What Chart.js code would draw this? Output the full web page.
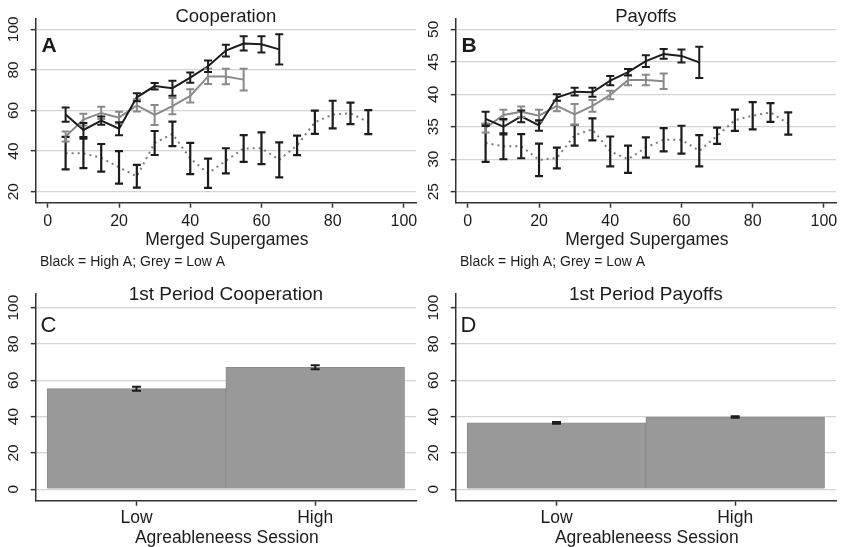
<!DOCTYPE html>
<html>
<head>
<meta charset="utf-8">
<script src="https://cdn.jsdelivr.net/npm/chart.js@4/dist/chart.umd.min.js"></script>
<style>
  html, body { margin: 0; padding: 0; background: #ffffff; }
  #wrap { position: relative; width: 842px; height: 547px; overflow: hidden; }
  #wrap canvas { position: absolute; }
</style>
</head>
<body>
<div id="wrap">
  <canvas id="panelA" width="421" height="270" style="left:0;top:0"></canvas>
  <canvas id="panelB" width="421" height="270" style="left:420px;top:0"></canvas>
  <canvas id="panelC" width="421" height="277" style="left:0;top:270px"></canvas>
  <canvas id="panelD" width="421" height="277" style="left:420px;top:270px"></canvas>
</div>
<script>
// ---- data -------------------------------------------------------------
const supergames = [5, 10, 15, 20, 25, 30, 35, 40, 45, 50, 55, 60, 65, 70, 75, 80, 85, 90];

// Cooperation (%) by merged supergame
const coopHigh    = [58, 50.4, 55, 51, 66.5, 72, 71, 76.2, 81.8, 89.5, 93, 92.6, 90.1];
const coopHighErr = [3.5, 3.5, 2, 3.2, 2, 1.6, 3.7, 2.5, 2.8, 2.9, 3.5, 4, 7.4];
const coopLow     = [47.2, 55.5, 58.8, 56.5, 62.5, 57.8, 62.2, 67.2, 76.8, 76.7, 75.2];
const coopLowErr  = [2.5, 2.9, 3, 2.9, 3, 4.9, 4, 3.3, 3.7, 3.8, 5.3];
const coopDotted    = [39, 38.9, 36.7, 32, 27.6, 44, 48.5, 36.4, 29.1, 35.2, 41.3, 41.4, 35.7, 42.8, 54.2, 58, 58.6, 54.3];
const coopDottedErr = [8, 7.3, 6.8, 8, 5.6, 5.9, 6, 7.7, 7.2, 6.2, 6.6, 7.8, 8.6, 4.8, 5.7, 6.8, 5.3, 5.9];

// Payoffs by merged supergame
const payHigh    = [36.2, 35, 36.6, 35.2, 39.5, 40.4, 40.3, 42.1, 43.4, 45.1, 46.2, 45.9, 44.9];
const payHighErr = [1.1, 1.2, 0.9, 0.8, 0.5, 0.6, 0.7, 0.7, 0.5, 0.9, 0.75, 1, 2.4];
const payLow     = [34.8, 36.8, 37.3, 36.7, 38.2, 36.9, 38.2, 39.9, 42.2, 42.2, 42];
const payLowErr  = [0.7, 0.8, 0.8, 0.9, 0.8, 1.6, 0.9, 0.65, 0.8, 0.8, 1.2];
const payDotted    = [32.5, 32, 32, 29.9, 30.2, 33.7, 34.6, 31.2, 30, 31.8, 33, 33, 31.3, 33.6, 36, 36.7, 37.2, 35.5];
const payDottedErr = [2.9, 2, 1.85, 2.5, 1.6, 1.6, 1.7, 2.3, 2.1, 1.55, 1.8, 2.15, 2.4, 1.25, 1.65, 2.1, 1.45, 1.7];

// First-period means by session agreeableness
const sessions        = ['Low', 'High'];
const firstCoop       = [55.4, 67.2];
const firstCoopErr    = [1.1, 1.1];
const firstPay        = [36.6, 39.8];
const firstPayErr     = [0.5, 0.45];

// axis tick values
const supergameTicks = [0, 20, 40, 60, 80, 100];
const coopTicks      = [20, 40, 60, 80, 100];
const payTicks       = [25, 30, 35, 40, 45, 50];
const barTicks       = [0, 20, 40, 60, 80, 100];

// ---- helpers ----------------------------------------------------------
const FONT = '"Liberation Sans", Arial, Helvetica, sans-serif';
const INK = '#1c1c1c';
const GREY = '#8a8a8a';
const GRID = '#d4d4d4';

function points(xs, ys) {
  return ys.map((y, i) => ({ x: xs[i], y: y }));
}

// vertical error bars with caps, drawn with the chart's own y scale
const errorBars = {
  id: 'errorBars',
  afterDatasetsDraw(chart) {
    const ctx = chart.ctx;
    const ys = chart.scales.y;
    for (let i = chart.data.datasets.length - 1; i >= 0; i--) {
      const ds = chart.data.datasets[i];
      if (!ds.errors) continue;
      const meta = chart.getDatasetMeta(i);
      const h = ds.capHalf;
      ctx.save();
      ctx.strokeStyle = ds.errorColor;
      ctx.lineWidth = ds.errorWidth;
      ctx.lineCap = 'butt';
      meta.data.forEach((el, j) => {
        const v = ds.data[j].y, e = ds.errors[j];
        const x = el.x;
        const top = ys.getPixelForValue(v + e);
        const bot = ys.getPixelForValue(v - e);
        ctx.beginPath();
        ctx.moveTo(x, top); ctx.lineTo(x, bot);
        ctx.moveTo(x - h, top); ctx.lineTo(x + h, top);
        ctx.moveTo(x - h, bot); ctx.lineTo(x + h, bot);
        ctx.stroke();
      });
      ctx.restore();
    }
  }
};

// titles, panel letters, rotated y tick labels, x tick labels, axis titles
const panelText = {
  id: 'panelText',
  afterDraw(chart) {
    const T = chart.options.plugins.panelText;
    if (!T) return;
    const ctx = chart.ctx, ca = chart.chartArea;
    const xs = chart.scales.x, ys = chart.scales.y;
    ctx.save();
    ctx.fillStyle = INK;
    ctx.textBaseline = 'alphabetic';

    ctx.font = `${T.titleSize}px ${FONT}`;
    ctx.textAlign = 'center';
    ctx.fillText(T.title, (ca.left + ca.right) / 2, T.titleBaseline);

    ctx.font = `${T.letterWeight} ${T.letterSize}px ${FONT}`;
    ctx.textAlign = 'left';
    ctx.fillText(T.letter, T.letterX, T.letterBaseline);

    ctx.font = `${T.yLabelSize}px ${FONT}`;
    ctx.textAlign = 'center';
    ys.ticks.forEach(t => {
      const py = ys.getPixelForValue(t.value);
      ctx.save();
      ctx.translate(T.yLabelX, py);
      ctx.rotate(-Math.PI / 2);
      ctx.fillText(String(t.value), 0, 0);
      ctx.restore();
    });

    ctx.font = `${T.xLabelSize}px ${FONT}`;
    ctx.textAlign = 'center';
    xs.ticks.forEach((t, i) => {
      const px = xs.getPixelForValue(t.value);
      const label = T.xLabels ? T.xLabels[i] : String(t.value);
      ctx.fillText(label, px, T.xLabelBaseline);
    });

    ctx.font = `${T.xTitleSize}px ${FONT}`;
    ctx.fillText(T.xTitle, (ca.left + ca.right) / 2 + 1, T.xTitleBaseline);

    if (T.note) {
      ctx.font = `${T.noteSize}px ${FONT}`;
      ctx.textAlign = 'left';
      ctx.fillText(T.note, T.noteX, T.noteBaseline);
    }
    ctx.restore();
  }
};

function axisCommon(tickValues, min, max, fitFn) {
  return {
    type: 'linear',
    min: min,
    max: max,
    offset: false,
    afterBuildTicks: s => { s.ticks = tickValues.map(v => ({ value: v })); },
    ticks: { display: false },
    border: { display: true, color: '#333333', width: 1.5 },
    afterFit: fitFn
  };
}

function linePanel(canvasId, cfg) {
  const H = 270, plotTop = 18.3, plotBottom = 202.7, plotLeft = 35.7, plotRight = 416;
  const x = axisCommon(supergameTicks, -3.4, 103.4, s => { s.height = H - plotBottom; });
  x.grid = { drawOnChartArea: false, drawTicks: true, tickLength: 5, tickColor: '#333333', tickWidth: 1.5, offset: false };
  const y = axisCommon(cfg.yTicks, cfg.yMin, cfg.yMax, s => { s.width = plotLeft; });
  y.grid = { color: GRID, lineWidth: 1.3, drawTicks: true, tickLength: 5, tickColor: '#333333', tickWidth: 1.5 };

  return new Chart(document.getElementById(canvasId), {
    type: 'line',
    data: {
      datasets: [
        {
          data: points(supergames, cfg.high), errors: cfg.highErr,
          borderColor: INK, borderWidth: 2, pointRadius: 0, tension: 0,
          errorColor: INK, errorWidth: 2, capHalf: 4
        },
        {
          data: points(supergames, cfg.low), errors: cfg.lowErr,
          borderColor: GREY, borderWidth: 2, pointRadius: 0, tension: 0,
          errorColor: GREY, errorWidth: 2, capHalf: 4
        },
        {
          data: points(supergames, cfg.dotted), errors: cfg.dottedErr,
          borderColor: '#7c7c7c', borderWidth: 2, borderDash: [2, 4], pointRadius: 0, tension: 0,
          errorColor: INK, errorWidth: 2.2, capHalf: 4
        }
      ]
    },
    options: {
      responsive: false,
      animation: false,
      devicePixelRatio: 1,
      layout: { padding: { top: plotTop, right: 421 - plotRight, bottom: 0, left: 0 } },
      scales: { x: x, y: y },
      plugins: {
        legend: { display: false },
        tooltip: { enabled: false },
        panelText: {
          title: cfg.title, titleSize: 18.5, titleBaseline: 21.5,
          letter: cfg.letter, letterWeight: 'bold', letterSize: 21, letterX: 41.5, letterBaseline: 51.5,
          yLabelX: 17.5, yLabelSize: 15.5,
          xLabelSize: 16, xLabelBaseline: 225.5,
          xTitle: 'Merged Supergames', xTitleSize: 17.5, xTitleBaseline: 245,
          note: 'Black = High A; Grey = Low A', noteSize: 14, noteX: 40, noteBaseline: 266
        }
      }
    },
    plugins: [errorBars, panelText]
  });
}

function barPanel(canvasId, cfg) {
  const H = 277, plotTop = 23.3, plotBottom = 230.7, plotLeft = 35.7, plotRight = 416;
  const x = axisCommon([1, 2], 0.436, 2.564, s => { s.height = H - plotBottom; });
  x.grid = { drawOnChartArea: false, drawTicks: true, tickLength: 5, tickColor: '#333333', tickWidth: 1.5, offset: false };
  const y = axisCommon(barTicks, -6.3, 107.9, s => { s.width = plotLeft; });
  y.grid = { color: GRID, lineWidth: 1.3, drawTicks: true, tickLength: 5, tickColor: '#333333', tickWidth: 1.5 };

  return new Chart(document.getElementById(canvasId), {
    type: 'bar',
    data: {
      datasets: [{
        data: points([1, 2], cfg.values), errors: cfg.errs,
        backgroundColor: '#999999', borderColor: '#8a8a8a', borderWidth: 1,
        barPercentage: 1, categoryPercentage: 1,
        errorColor: INK, errorWidth: 2, capHalf: 4.5
      }]
    },
    options: {
      responsive: false,
      animation: false,
      devicePixelRatio: 1,
      layout: { padding: { top: plotTop, right: 421 - plotRight, bottom: 0, left: 0 } },
      scales: { x: x, y: y },
      plugins: {
        legend: { display: false },
        tooltip: { enabled: false },
        panelText: {
          title: cfg.title, titleSize: 19, titleBaseline: 29.5,
          letter: cfg.letter, letterWeight: 'normal', letterSize: 22, letterX: 40.5, letterBaseline: 61.5,
          yLabelX: 17.5, yLabelSize: 15.5,
          xLabels: sessions, xLabelSize: 17.5, xLabelBaseline: 253,
          xTitle: 'Agreableneess Session', xTitleSize: 17.5, xTitleBaseline: 272.5
        }
      }
    },
    plugins: [errorBars, panelText]
  });
}

linePanel('panelA', {
  title: 'Cooperation', letter: 'A',
  yTicks: coopTicks, yMin: 14.6, yMax: 105.4,
  high: coopHigh, highErr: coopHighErr,
  low: coopLow, lowErr: coopLowErr,
  dotted: coopDotted, dottedErr: coopDottedErr
});

linePanel('panelB', {
  title: 'Payoffs', letter: 'B',
  yTicks: payTicks, yMin: 23.31, yMax: 51.69,
  high: payHigh, highErr: payHighErr,
  low: payLow, lowErr: payLowErr,
  dotted: payDotted, dottedErr: payDottedErr
});

barPanel('panelC', {
  title: '1st Period Cooperation', letter: 'C',
  values: firstCoop, errs: firstCoopErr
});

barPanel('panelD', {
  title: '1st Period Payoffs', letter: 'D',
  values: firstPay, errs: firstPayErr
});
</script>
</body>
</html>
